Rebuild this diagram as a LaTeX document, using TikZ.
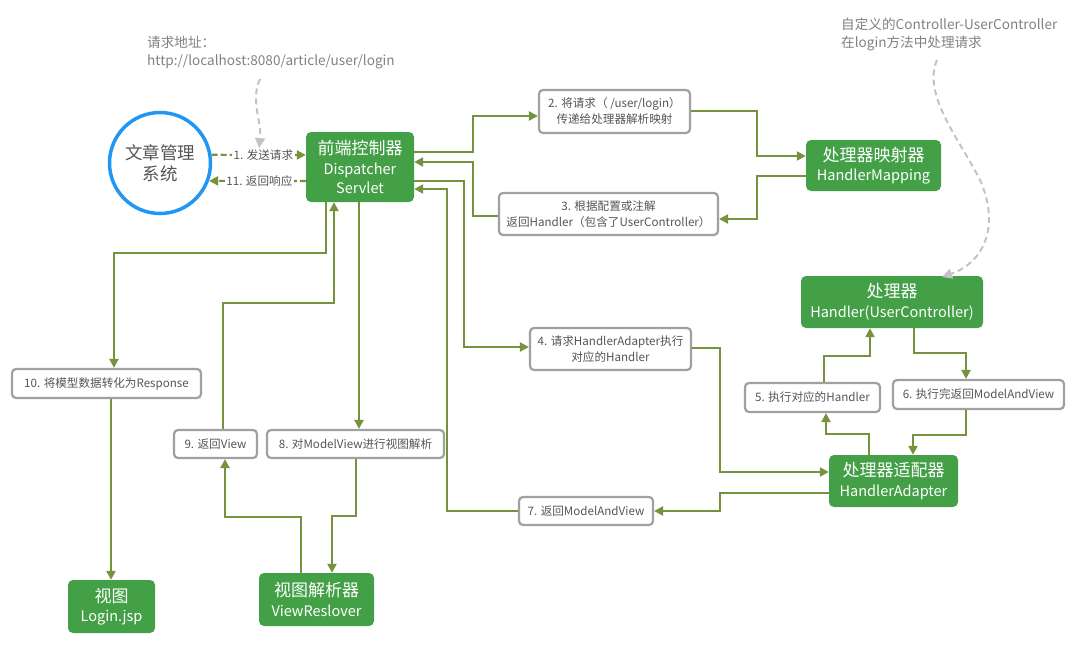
\documentclass[tikz,border=0pt]{standalone}
\usepackage{fontspec}
\setmainfont{Noto Sans CJK SC}
\usetikzlibrary{arrows.meta,calc}
\definecolor{gboxc}{RGB}{67,160,71}
\definecolor{connc}{RGB}{118,146,60}
\definecolor{gborder}{RGB}{160,160,160}
\definecolor{btext}{RGB}{85,85,85}
\definecolor{notec}{RGB}{130,130,130}
\definecolor{circblue}{RGB}{33,150,243}
\definecolor{dashgray}{RGB}{195,195,195}
\begin{document}
\begin{tikzpicture}[x=1pt,y=-1pt,
  greenbox/.style={fill=gboxc, draw=none, rounded corners=5pt, text=white, align=center, inner sep=0pt, font=\fontsize{14.5}{19.5}\selectfont},
  graybox/.style={fill=white, draw=gborder, line width=2.2pt, rounded corners=4pt, text=btext, align=center, inner sep=0pt, font=\fontsize{11.6}{16}\selectfont},
  conn/.style={draw=connc, line width=2.2pt, -{Triangle[length=9pt,width=9pt]}},
  dconn/.style={conn, dashed, dash pattern=on 6pt off 3pt},
  lbl/.style={fill=white, inner sep=1.5pt, text=btext, font=\fontsize{11.6}{13}\selectfont},
  notetxt/.style={text=notec, align=left, inner sep=0pt, font=\fontsize{13.6}{18}\selectfont},
  notearrow/.style={draw=dashgray, line width=2pt, dashed, dash pattern=on 6pt off 4pt, -{Triangle[length=10pt,width=10pt]}}]
\useasboundingbox (0,0) rectangle (1080,664);
\fill[white] (0,0) rectangle (1080,664);

% nodes
\node[circle, draw=circblue, line width=3.5pt, minimum size=101pt, inner sep=0pt, align=center, text=btext, font=\fontsize{17.5}{21}\selectfont] (circ) at (160,163) {文章管理\\系统};

\node[greenbox, minimum width=108pt, minimum height=70pt] (ds) at (360,167) {{\fontsize{17}{19.5}\selectfont 前端控制器}\\Dispatcher\\Servlet};
\node[greenbox, minimum width=135pt, minimum height=51pt] (hm) at (873.5,165.5) {{\fontsize{17}{19.5}\selectfont 处理器映射器}\\HandlerMapping};
\node[greenbox, minimum width=182pt, minimum height=52pt] (hd) at (892,302) {{\fontsize{17}{19.5}\selectfont 处理器}\\Handler(UserController)};
\node[greenbox, minimum width=129pt, minimum height=52pt] (ha) at (893.5,481) {{\fontsize{17}{19.5}\selectfont 处理器适配器}\\HandlerAdapter};
\node[greenbox, minimum width=87pt, minimum height=53pt] (login) at (111.5,606.5) {{\fontsize{17}{19.5}\selectfont 视图}\\Login.jsp};
\node[greenbox, minimum width=115pt, minimum height=53pt] (vr) at (316.5,599.5) {{\fontsize{17}{19.5}\selectfont 视图解析器}\\ViewReslover};

\node[graybox, minimum width=151pt, minimum height=43pt] (b2) at (614.5,111.5) {2. 将请求（ /user/login）\\传递给处理器解析映射};
\node[graybox, minimum width=219pt, minimum height=42pt] (b3) at (608.5,214) {3. 根据配置或注解\\返回Handler（包含了UserController）};
\node[graybox, minimum width=161pt, minimum height=42pt] (b4) at (610.5,349) {4. 请求HandlerAdapter执行\\对应的Handler};
\node[graybox, minimum width=135pt, minimum height=29pt] (b5) at (812.5,397.5) {5. 执行对应的Handler};
\node[graybox, minimum width=171pt, minimum height=29pt] (b6) at (978.5,394.5) {6. 执行完返回ModelAndView};
\node[graybox, minimum width=134pt, minimum height=28pt] (b7) at (586,511) {7. 返回ModelAndView};
\node[graybox, minimum width=177pt, minimum height=28pt] (b8) at (355.5,444) {8. 对ModelView进行视图解析};
\node[graybox, minimum width=83pt, minimum height=28pt] (b9) at (215.5,444) {9. 返回View};
\node[graybox, minimum width=189pt, minimum height=29pt] (b10) at (106.5,383.5) {10. 将模型数据转化为Response};

\node[notetxt, anchor=north west] (note1) at (147,36) {请求地址：\\http://localhost:8080/article/user/login};
\node[notetxt, anchor=north west] (note2) at (841,18) {自定义的Controller-UserController\\在login方法中处理请求};

% note arrows
\coordinate (n1s) at (260,79);
\coordinate (n1e) at (259,148);
\draw[notearrow] (n1s) .. controls (250,100) and (262,122) .. (n1e);
\coordinate (n2s) at (937,60);
\coordinate (n2m) at (980,180);
\coordinate (n2e) at (942,277);
\draw[notearrow] (n2s) .. controls (922,95) and (960,140) .. (n2m) .. controls (1000,225) and (985,262) .. (n2e);

% dashed request / response
\draw[dconn] (circ.9) -- node[lbl, pos=0.55] {1. 发送请求} (ds.west |- 0,155);
\draw[dconn] (ds.west |- 0,181) -- node[lbl, pos=0.48] {11. 返回响应} (circ.-20);

% connectors
\draw[conn] (ds.east |- 0,152) -- (473,152) |- (b2.west |- 0,116);
\draw[conn] (b2.east |- 0,111) -- (757,111) |- (hm.west |- 0,156);
\draw[conn] (hm.west |- 0,176) -- (757,176) |- (b3.east |- 0,219);
\draw[conn] (b3.west |- 0,216) -- (473,216) |- (ds.east |- 0,162);
\draw[conn] (ds.east |- 0,181) -- (464,181) |- (b4.west |- 0,347);
\draw[conn] (b4.east |- 0,348) -- (720,348) |- (ha.west |- 0,472);
\draw[conn] (ha.west |- 0,493) -- (720,493) |- (b7.east |- 0,511);
\draw[conn] (b7.west |- 0,511) -- (447,511) |- (ds.east |- 0,189);
\draw[conn] (ha.north -| 869,0) -- (869,434) -| (b5.south -| 826,0);
\draw[conn] (b5.north -| 824,0) -- (824,356) -| (hd.south -| 870,0);
\draw[conn] (hd.south -| 914,0) -- (914,353) -| (b6.north -| 966,0);
\draw[conn] (b6.south -| 966,0) -- (966,435) -| (ha.north -| 913,0);
\draw[conn] (ds.south -| 359,0) -- (b8.north -| 359,0);
\draw[conn] (b8.south -| 356,0) -- (356,516) -| (vr.north -| 332,0);
\draw[conn] (vr.north -| 301,0) -- (301,517) -| (b9.south -| 225,0);
\draw[conn] (b9.north -| 223,0) -- (223,303) -| (ds.south -| 334,0);
\draw[conn] (ds.south -| 326,0) -- (326,253) -| (b10.north -| 114,0);
\draw[conn] (b10.south -| 111,0) -- (login.north -| 111,0);
\end{tikzpicture}
\end{document}
